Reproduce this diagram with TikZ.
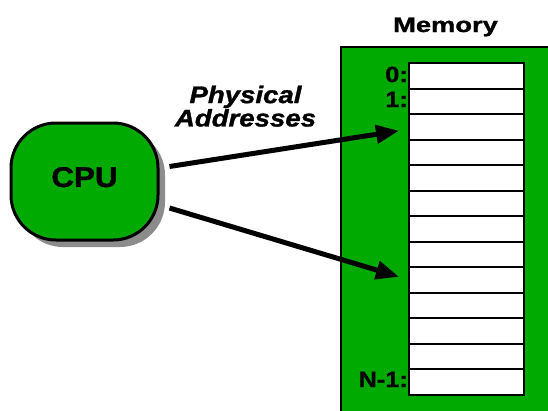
\documentclass[tikz,border=0pt]{standalone}
\usepackage{fontspec}
\setmainfont{Liberation Sans}[BoldFeatures={FakeBold=1.2},BoldItalicFeatures={FakeBold=1.2}]
\usetikzlibrary{arrows.meta,calc,shadows}
\definecolor{memgreen}{HTML}{00AA00}
\begin{document}
\begin{tikzpicture}[x=1pt,y=-1pt,
  cell/.style={draw=black,line width=2pt,fill=white,minimum width=115pt,minimum height=25.5pt,inner sep=0pt,outer sep=0pt},
  lbl/.style={font=\bfseries\fontsize{22}{22}\selectfont,anchor=base east,inner sep=0pt},
  addr/.style={line width=5pt,-{Triangle[length=23pt,width=18pt]}},
  cpubox/.style={rectangle,rounded corners=45pt,draw=black,line width=3pt,fill=memgreen,
    minimum width=147pt,minimum height=117pt,inner sep=0pt,
    drop shadow={shadow xshift=7pt,shadow yshift=-7pt,fill=black!45,opacity=1}},
  ttl/.style={inner sep=0pt,anchor=base}]
\useasboundingbox (0,0) rectangle (548,410);
% memory block
\fill[memgreen] (341,47) rectangle (552,414);
\draw[black,line width=2pt] (552,47) -- (341,47) -- (341,414);
\node[ttl,font=\bfseries\fontsize{21}{21}\selectfont] (memt) at (445.5,32) {\scalebox{1.3}[1]{Memory}};
% cells
\foreach \k in {0,...,12}{
  \node[cell] (m\k) at (466.5,{63+25.5*\k+12.75}) {};
}
\node[lbl] (l0) at (408,82) {\scalebox{1.15}[1]{0:}};
\node[lbl] (l1) at (408,107) {\scalebox{1.15}[1]{1:}};
\node[lbl] (ln) at (408,387) {\scalebox{1.15}[1]{N-1:}};
% CPU
\node[cpubox,text depth=9pt,font=\bfseries\fontsize{28.5}{28.5}\selectfont] (cpu) at (84.5,181.5) {\scalebox{1.1}[1]{CPU}};
% label
\node[inner sep=0pt,anchor=north,align=center,font=\bfseries\itshape\fontsize{24}{21}\selectfont] (phys) at (245.5,85.5)
  {\scalebox{1.15}[1]{Physical}\\\scalebox{1.15}[1]{Addresses}};
% arrows
\draw[addr] ($(cpu.east)+(10,-15)$) -- ($(m2.west)+(-10,4)$);
\draw[addr] ($(cpu.east)+(10,26.5)$) -- ($(m8.west)+(-10,-3)$);
\end{tikzpicture}
\end{document}
